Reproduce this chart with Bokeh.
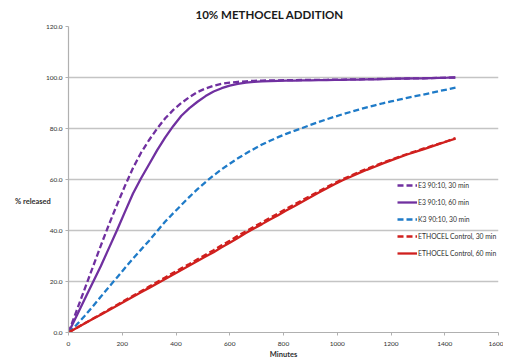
from bokeh.plotting import figure
from bokeh.models import Range1d, Legend, LegendItem, FixedTicker
from bokeh.embed import file_html
from bokeh.resources import INLINE

minutes = list(range(0, 1441, 30))
e3_30 = [0, 8.5, 17, 25.5, 34, 42.2, 50, 57.5, 64.5, 70.5, 75.5, 80, 84, 87.3, 90, 92.3,
         94.3, 95.7, 96.8, 97.5, 98, 98.3, 98.5, 98.7, 98.8, 98.85, 98.9, 98.95, 99,
         99.02, 99.05, 99.08, 99.1, 99.15, 99.2, 99.25, 99.3, 99.35, 99.4, 99.45, 99.5,
         99.55, 99.6, 99.65, 99.7, 99.78, 99.85, 99.92, 100]
e3_60 = [0, 6.5, 13, 19.5, 26, 33, 40, 47.3, 54.5, 60.5, 66, 71.5, 76.5, 81, 85, 88,
         90.5, 92.7, 94.5, 95.8, 96.8, 97.5, 98, 98.3, 98.5, 98.6, 98.7, 98.75, 98.8,
         98.85, 98.9, 98.95, 99, 99.05, 99.1, 99.15, 99.2, 99.25, 99.3, 99.4, 99.5,
         99.55, 99.6, 99.65, 99.7, 99.78, 99.85, 99.92, 100]
k3_30 = [0, 3, 6.5, 10.2, 14, 17.8, 21.5, 25.3, 29, 32.5, 36, 39.8, 43.5, 46.8, 50, 53.2,
         56.2, 59, 61.6, 64, 66.2, 68.3, 70.2, 72, 73.7, 75.2, 76.6, 77.9, 79.1, 80.2,
         81.4, 82.5, 83.6, 84.6, 85.6, 86.5, 87.4, 88.3, 89.1, 89.9, 90.6, 91.3, 92,
         92.7, 93.3, 94, 94.7, 95.3, 96]
eth_30 = [0, 1.8, 3.6, 5.4, 7.2, 9, 10.8, 12.6, 14.4, 16.2, 18, 19.8, 21.6, 23.4, 25.2,
          26.9, 28.7, 30.5, 32.3, 34.2, 36, 37.9, 39.7, 41.5, 43.2, 45, 46.7, 48.5, 50.2,
          51.9, 53.6, 55.3, 57, 58.6, 60.1, 61.5, 62.9, 64.2, 65.4, 66.6, 67.8, 68.9, 70,
          71, 72.1, 73.1, 74.1, 75.1, 76.2]
eth_60 = [0, 1.75, 3.5, 5.25, 7, 8.75, 10.5, 12.25, 14, 15.75, 17.5, 19.25, 21, 22.75,
          24.5, 26.25, 28, 29.8, 31.5, 33.4, 35.2, 37.1, 39, 40.8, 42.5, 44.3, 46, 47.8,
          49.5, 51.3, 53, 54.8, 56.5, 58.1, 59.7, 61.1, 62.5, 63.8, 65, 66.3, 67.5, 68.7,
          69.8, 70.8, 71.8, 72.9, 74, 75, 76]

series_names = ["E3 90:10, 30 min", "E3 90:10, 60 min", "K3 90:10, 30 min",
                "ETHOCEL Control, 30 min", "ETHOCEL Control, 60 min"]
x_ticks = [0, 200, 400, 600, 800, 1000, 1200, 1400, 1600]
y_ticks = [0, 20, 40, 60, 80, 100, 120]

FONT = "Lato"
PURPLE = "#7030a0"
BLUE = "#1f7bc8"
RED = "#d0201e"

p = figure(frame_width=430, frame_height=306, output_backend="svg", toolbar_location=None,
           x_range=Range1d(0, 1600), y_range=Range1d(0, 120),
           min_border_left=68, min_border_right=5, min_border_top=26, min_border_bottom=26,
           title="10% METHOCEL ADDITION")
p.outline_line_color = None
p.background_fill_color = "white"
p.border_fill_color = "white"

p.title.text_font = FONT
p.title.text_font_size = "11.5px"
p.title.text_font_style = "bold"
p.title.text_color = "#1a1a1a"
p.title.align = "left"
p.title.offset = 127
p.title.standoff = 11

p.xgrid.visible = False
p.ygrid.grid_line_color = "#c4c4c4"
p.ygrid.grid_line_width = 1.5
p.ygrid.ticker = FixedTicker(ticks=y_ticks)

p.xaxis.ticker = FixedTicker(ticks=x_ticks)
p.yaxis.ticker = FixedTicker(ticks=y_ticks)
p.yaxis.major_label_overrides = {t: f"{t:.1f}" for t in y_ticks}
for ax in (p.xaxis, p.yaxis):
    ax.axis_line_color = "#b0b0b0"
    ax.axis_line_width = 1.2
    ax.major_tick_line_color = "#b0b0b0"
    ax.major_tick_out = 3
    ax.major_tick_in = 0
    ax.minor_tick_line_color = None
    ax.major_label_text_font = FONT
    ax.major_label_text_font_size = "6.5px"
    ax.major_label_text_color = "#303030"
    ax.major_label_standoff = 3
    ax.axis_label_text_font = FONT
    ax.axis_label_text_font_size = "7.5px"
    ax.axis_label_text_font_style = "bold"
    ax.axis_label_text_color = "#303030"
p.xaxis.major_label_standoff = 6
p.xaxis.axis_label = "Minutes"
p.xaxis.axis_label_standoff = 1
p.yaxis.axis_label = "\n\n\n\n% released"
p.yaxis.axis_label_orientation = "horizontal"
p.yaxis.axis_label_standoff = -8

r1 = p.line(minutes, e3_30, line_color=PURPLE, line_width=2.3, line_dash="6 3")
r2 = p.line(minutes, e3_60, line_color=PURPLE, line_width=2.3)
r3 = p.line(minutes, k3_30, line_color=BLUE, line_width=2.3, line_dash="6 3")
r4 = p.line(minutes, eth_30, line_color=RED, line_width=2.3, line_dash="6 3")
r5 = p.line(minutes, eth_60, line_color=RED, line_width=2.3)

legend = Legend(items=[LegendItem(label=n, renderers=[r]) for n, r in
                       zip(series_names, [r1, r2, r3, r4, r5])],
                location=(329, 73), orientation="vertical")
legend.background_fill_alpha = 0
legend.border_line_color = None
legend.label_text_font = FONT
legend.label_text_font_size = "6.8px"
legend.label_text_color = "#303030"
legend.glyph_width = 20
legend.glyph_height = 12
legend.label_height = 12
legend.label_standoff = 1
legend.spacing = 5
legend.padding = 0
legend.margin = 0
p.add_layout(legend, "center")

open("out.html", "w").write(file_html(p, INLINE))
